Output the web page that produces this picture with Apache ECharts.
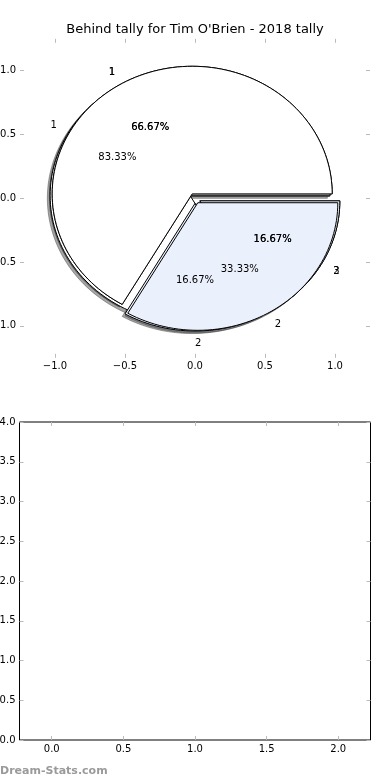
<!DOCTYPE html>
<html><head><meta charset="utf-8">
<script src="https://cdn.jsdelivr.net/npm/echarts@6/dist/echarts.min.js"></script>
<style>html,body{margin:0;padding:0;background:#fff}#c{width:390px;height:780px}</style>
</head><body><div id="c"></div>
<script>
const chartTitle = "Behind tally for Tim O'Brien - 2018 tally";
// three pies drawn on top of each other (in this order)
const pieValuesA = [5, 1];
const pieLabelsA = ['1', '2'];
const pieValuesC = [4, 1, 1];
const pieLabelsC = ['1', '2', '3'];
const pieValuesB = [4, 2];
const pieLabelsB = ['1', '2'];
const pieTicks = [-1.0, -0.5, 0.0, 0.5, 1.0];
const barXTicks = [0.0, 0.5, 1.0, 1.5, 2.0];
const barYTicks = [0.0, 0.5, 1.0, 1.5, 2.0, 2.5, 3.0, 3.5, 4.0];
const barValues = [];
const watermark = 'Dream-Stats.com';

const pies = [
  { values: pieValuesA, labels: pieLabelsA },
  { values: pieValuesC, labels: pieLabelsC },
  { values: pieValuesB, labels: pieLabelsB }
];
const wedgeColors = ['#ffffff', '#ebf1fc', '#ebf1fc'];
const EXPLODE = 0.04;
const SH = [-0.02, -0.02];
const FONT = '"DejaVu Sans", sans-serif';

const wedges = [];
pies.forEach(p => {
  const total = p.values.reduce((a, b) => a + b, 0);
  let cum = 0;
  p.values.forEach((v, wi) => {
    const t1 = cum / total * 360; cum += v; const t2 = cum / total * 360;
    const mid = (t1 + t2) / 2 * Math.PI / 180;
    wedges.push({
      t1, t2, mid,
      cx: EXPLODE * Math.cos(mid), cy: EXPLODE * Math.sin(mid),
      color: wedgeColors[wi], label: p.labels[wi],
      pct: (v / total * 100).toFixed(2) + '%'
    });
  });
});

function wedgePoints(api, w, ox, oy) {
  const pts = [api.coord([w.cx + ox, w.cy + oy])];
  const n = Math.max(2, Math.ceil((w.t2 - w.t1) / 2));
  for (let i = 0; i <= n; i++) {
    const a = (w.t1 + (w.t2 - w.t1) * i / n) * Math.PI / 180;
    pts.push(api.coord([w.cx + ox + Math.cos(a), w.cy + oy + Math.sin(a)]));
  }
  return pts;
}

const fmt = v => v.toFixed(1).replace('-', '\u2212');
const tickStyle = { show: true, inside: true, length: 4, lineStyle: { color: '#bbbbbb', width: 1 } };
function axis(extra, ticks, showLabel) {
  return Object.assign({
    type: 'value',
    axisLine: { show: false, onZero: false },
    splitLine: { show: false },
    axisTick: Object.assign({ customValues: ticks }, tickStyle),
    axisLabel: {
      show: showLabel, customValues: ticks, formatter: fmt,
      color: '#000', fontSize: 10, fontFamily: FONT, margin: 4
    }
  }, extra);
}

const chart = echarts.init(document.getElementById('c'));
chart.setOption({
  animation: false,
  backgroundColor: '#fff',
  title: {
    text: chartTitle, left: 'center', top: 23, padding: 0,
    textStyle: { fontSize: 13, fontWeight: 'normal', color: '#000', fontFamily: FONT }
  },
  grid: [
    { left: 20, right: 20, top: 38.8, height: 319, show: false, containLabel: false, outerBoundsMode: 'none' },
    { left: 19.5, width: 351, top: 422, height: 318, show: true, borderColor: '#000', borderWidth: 1, containLabel: false, outerBoundsMode: 'none' }
  ],
  xAxis: [
    axis({ gridIndex: 0, position: 'bottom', min: -1.25, max: 1.25 }, pieTicks, true),
    axis({ gridIndex: 0, position: 'top', min: -1.25, max: 1.25 }, pieTicks, false),
    axis({ gridIndex: 1, position: 'bottom', min: -0.225, max: 2.225 }, barXTicks, true),
    axis({ gridIndex: 1, position: 'top', min: -0.225, max: 2.225 }, barXTicks, false)
  ],
  yAxis: [
    axis({ gridIndex: 0, position: 'left', min: -1.25, max: 1.25 }, pieTicks, true),
    axis({ gridIndex: 0, position: 'right', min: -1.25, max: 1.25 }, pieTicks, false),
    axis({ gridIndex: 1, position: 'left', min: 0, max: 4 }, barYTicks, true),
    axis({ gridIndex: 1, position: 'right', min: 0, max: 4 }, barYTicks, false)
  ],
  graphic: [{
    type: 'text', left: 0, top: 765.5,
    style: { text: watermark, fill: '#9a9a9a', font: 'bold 11px ' + FONT }
  }],
  series: [
    {
      type: 'custom', xAxisIndex: 0, yAxisIndex: 0, z: 1, silent: true, clip: false,
      data: wedges.map(() => [0, 0]), encode: { x: 0, y: 1 },
      renderItem: (params, api) => {
        const w = wedges[params.dataIndex];
        return {
          type: 'polygon', shape: { points: wedgePoints(api, w, SH[0], SH[1]) },
          style: { fill: 'rgba(77,77,77,0.5)', stroke: 'rgba(77,77,77,0.5)', lineWidth: 1 }
        };
      }
    },
    {
      type: 'custom', xAxisIndex: 0, yAxisIndex: 0, z: 2, silent: true, clip: false,
      data: wedges.map(() => [0, 0]), encode: { x: 0, y: 1 },
      renderItem: (params, api) => {
        const w = wedges[params.dataIndex];
        return {
          type: 'polygon', shape: { points: wedgePoints(api, w, 0, 0) },
          style: { fill: w.color, stroke: '#000', lineWidth: 1 }
        };
      }
    },
    {
      type: 'custom', xAxisIndex: 0, yAxisIndex: 0, z: 3, silent: true, clip: false,
      data: wedges.map(() => [0, 0]), encode: { x: 0, y: 1 },
      renderItem: (params, api) => {
        const w = wedges[params.dataIndex];
        const c = Math.cos(w.mid), s = Math.sin(w.mid);
        const lp = api.coord([w.cx + 1.1 * c, w.cy + 1.1 * s]);
        const pp = api.coord([w.cx + 0.6 * c, w.cy + 0.6 * s]);
        return {
          type: 'group', children: [
            { type: 'text', x: lp[0], y: lp[1], style: { text: w.label, fill: '#000', font: '10px ' + FONT, align: c > -1e-6 ? 'left' : 'right', verticalAlign: 'middle' } },
            { type: 'text', x: pp[0], y: pp[1], style: { text: w.pct, fill: '#000', font: '10px ' + FONT, align: 'center', verticalAlign: 'middle' } }
          ]
        };
      }
    },
    { type: 'line', xAxisIndex: 2, yAxisIndex: 2, data: barValues }
  ]
});
</script></body></html>
